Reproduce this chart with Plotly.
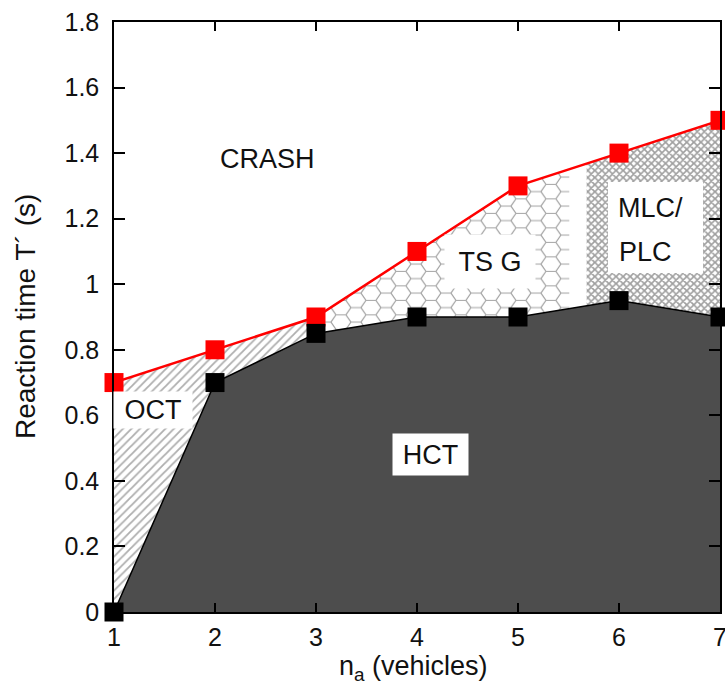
import base64
import numpy as np
import plotly.graph_objects as go

# ---------------- data ----------------
n_vehicles = [1, 2, 3, 4, 5, 6, 7]
t_crash = [0.70, 0.80, 0.90, 1.10, 1.30, 1.40, 1.50]   # red boundary
t_hct = [0.00, 0.70, 0.85, 0.90, 0.90, 0.95, 0.90]     # black boundary

x_tick_vals = [1, 2, 3, 4, 5, 6, 7]
y_tick_vals = [0, 0.2, 0.4, 0.6, 0.8, 1.0, 1.2, 1.4, 1.6, 1.8]
y_tick_text = ["0", "0.2", "0.4", "0.6", "0.8", "1", "1.2", "1.4", "1.6", "1.8"]

# phase region extents along n_a
oct_span = (1.0, 3.0)
tsg_span = (2.95, 5.51)
mlc_span = (5.68, 7.0)

# ---------------- layout constants ----------------
W, H = 725, 687
ML, MR, MT, MB = 114, 5, 22, 75
X_RANGE = [1, 7]
Y_RANGE = [0, 1.8]
FONT = "Liberation Sans, Arial, Helvetica, sans-serif"
PLOT_W = W - ML - MR
PLOT_H = H - MT - MB
px_per_x = PLOT_W / (X_RANGE[1] - X_RANGE[0])
px_per_y = PLOT_H / (Y_RANGE[1] - Y_RANGE[0])

xs = np.array(n_vehicles, dtype=float)
up = np.array(t_crash)
lo = np.array(t_hct)


def band(x0, x1):
    inner = [v for v in xs if x0 < v < x1]
    xx = np.array([x0] + inner + [x1])
    top = np.interp(xx, xs, up)
    bot = np.interp(xx, xs, lo)
    px = list(xx) + list(xx[::-1]) + [xx[0]]
    py = list(top) + list(bot[::-1]) + [top[0]]
    return px, py


fig = go.Figure()

# honeycomb pattern image (TSG region), placed below the traces
tsg_ylo = min(np.interp(tsg_span, xs, lo)) - 0.02
tsg_yhi = max(np.interp(tsg_span, xs, up)) + 0.02
img_w = (tsg_span[1] - tsg_span[0]) * px_per_x
img_h = (tsg_yhi - tsg_ylo) * px_per_y
r = 10.0
hh = 14.5
tile_w = 3 * r


def hexpath(cx, cy):
    pts = [(cx + r, cy), (cx + r / 2, cy + hh / 2), (cx - r / 2, cy + hh / 2),
           (cx - r, cy), (cx - r / 2, cy - hh / 2), (cx + r / 2, cy - hh / 2)]
    return "M" + " L".join(f"{p[0]:.2f},{p[1]:.2f}" for p in pts) + " Z"


paths = " ".join(hexpath(cx, cy) for cx, cy in
                 [(0, 0), (tile_w, 0), (0, hh), (tile_w, hh), (1.5 * r, hh / 2)])
svg = (f'<svg xmlns="http://www.w3.org/2000/svg" width="{img_w:.1f}" height="{img_h:.1f}" '
       f'viewBox="0 0 {img_w:.1f} {img_h:.1f}" preserveAspectRatio="none">'
       f'<defs><pattern id="hx" width="{tile_w:.2f}" height="{hh:.2f}" patternUnits="userSpaceOnUse">'
       f'<path d="{paths}" fill="none" stroke="#a0a0a0" stroke-width="1.2"/></pattern></defs>'
       f'<rect x="0" y="0" width="{img_w:.1f}" height="{img_h:.1f}" fill="url(#hx)"/></svg>')
src = "data:image/svg+xml;base64," + base64.b64encode(svg.encode()).decode()
fig.add_layout_image(dict(source=src, xref="x", yref="y", x=tsg_span[0], y=tsg_yhi,
                          sizex=tsg_span[1] - tsg_span[0], sizey=tsg_yhi - tsg_ylo,
                          sizing="stretch", layer="below", xanchor="left", yanchor="top"))

# white mask above the crash line (hides pattern overflow)
fig.add_trace(go.Scatter(x=list(xs) + [xs[-1], xs[0]], y=list(up) + [Y_RANGE[1], Y_RANGE[1]],
                         fill="toself", fillcolor="white", mode="none", hoverinfo="skip",
                         showlegend=False))

# OCT hatched region
ox, oy = band(*oct_span)
fig.add_trace(go.Scatter(x=ox, y=oy, fill="toself", mode="none", hoverinfo="skip",
                         fillcolor="white",
                         fillpattern=dict(shape="/", fgcolor="#5e5e5e", bgcolor="white",
                                          size=6, solidity=0.3),
                         showlegend=False))

# MLC/PLC cross-hatched region
mx, my = band(*mlc_span)
fig.add_trace(go.Scatter(x=mx, y=my, fill="toself", mode="none", hoverinfo="skip",
                         fillcolor="white",
                         fillpattern=dict(shape="x", fgcolor="#404040", bgcolor="white",
                                          size=5, solidity=0.55),
                         showlegend=False))

# HCT dark region
fig.add_trace(go.Scatter(x=list(xs) + [xs[-1], xs[0]], y=list(lo) + [0, 0],
                         fill="toself", fillcolor="#4d4d4d", mode="none", hoverinfo="skip",
                         showlegend=False))
fig.add_trace(go.Scatter(x=xs, y=lo, mode="lines", line=dict(color="black", width=1.5),
                         hoverinfo="skip", showlegend=False))

# crash line (red) and HCT boundary markers (black)
fig.add_trace(go.Scatter(x=xs, y=up, mode="lines+markers",
                         line=dict(color="#ff0000", width=2.5),
                         marker=dict(symbol="square", size=19, color="#ff0000"),
                         cliponaxis=False, showlegend=False))
fig.add_trace(go.Scatter(x=xs, y=lo, mode="markers",
                         marker=dict(symbol="square", size=19, color="black"),
                         cliponaxis=False, showlegend=False))

# labels
lab_font = dict(family=FONT, size=27, color="#111111")
fig.add_annotation(x=2.515, y=1.382, text="CRASH", showarrow=False, font=lab_font)
fig.add_annotation(x=1.386, y=0.616, text="OCT", showarrow=False, font=lab_font,
                   bgcolor="white", width=78, height=36, borderpad=0)
fig.add_annotation(x=4.723, y=1.068, text="TS G", showarrow=False, font=lab_font,
                   bgcolor="white", width=90, height=53, borderpad=0)
fig.add_annotation(x=4.13, y=0.479, text="HCT", showarrow=False, font=lab_font,
                   bgcolor="white", width=75, height=41, borderpad=0)
fig.add_shape(type="rect", xref="x", yref="y", x0=5.891, x1=6.832, y0=1.034, y1=1.312,
              fillcolor="white", line=dict(width=0), layer="above")
fig.add_annotation(x=5.97, y=1.232, text="MLC/", showarrow=False, font=lab_font,
                   xanchor="left")
fig.add_annotation(x=5.98, y=1.098, text="PLC", showarrow=False, font=lab_font,
                   xanchor="left")

# axis titles (placed as paper annotations for precise positioning)
title_font = dict(family=FONT, size=27, color="#111111")
fig.add_annotation(xref="paper", yref="paper", x=(413 - ML) / PLOT_W, y=-56 / PLOT_H,
                   text="n<sub>a</sub> (vehicles)", showarrow=False, font=title_font,
                   xanchor="center", yanchor="middle")
fig.add_annotation(xref="paper", yref="paper", x=-89 / PLOT_W, y=0.5,
                   text="Reaction time T\u00b4 (s)", showarrow=False,
                   font=dict(family=FONT, size=28, color="#111111"),
                   textangle=-90, xanchor="center", yanchor="middle")

tick_font = dict(family=FONT, size=25, color="#111111")
fig.update_layout(
    width=W, height=H,
    margin=dict(l=ML, r=MR, t=MT, b=MB, autoexpand=False),
    paper_bgcolor="white", plot_bgcolor="white",
    font=dict(family=FONT),
    xaxis=dict(range=X_RANGE, tickvals=x_tick_vals, ticks="inside", ticklen=9,
               tickwidth=1.5, tickcolor="black", showline=True, linecolor="black",
               linewidth=1.5, mirror="ticks", showgrid=False, zeroline=False,
               tickfont=tick_font, ticklabelstandoff=2, automargin=False,
               ticklabeloverflow="allow"),
    yaxis=dict(range=Y_RANGE, tickvals=y_tick_vals, ticktext=y_tick_text, ticks="inside",
               ticklen=11, tickwidth=1.5, tickcolor="black", showline=True,
               linecolor="black", linewidth=1.5, mirror="ticks", showgrid=False,
               zeroline=False, tickfont=tick_font, ticklabelstandoff=8, automargin=False,
               ticklabeloverflow="allow"),
)

fig.write_html("out.html", config={"displayModeBar": False},
               post_script="document.body.style.margin='0';"
                           "document.body.style.overflow='hidden';")
